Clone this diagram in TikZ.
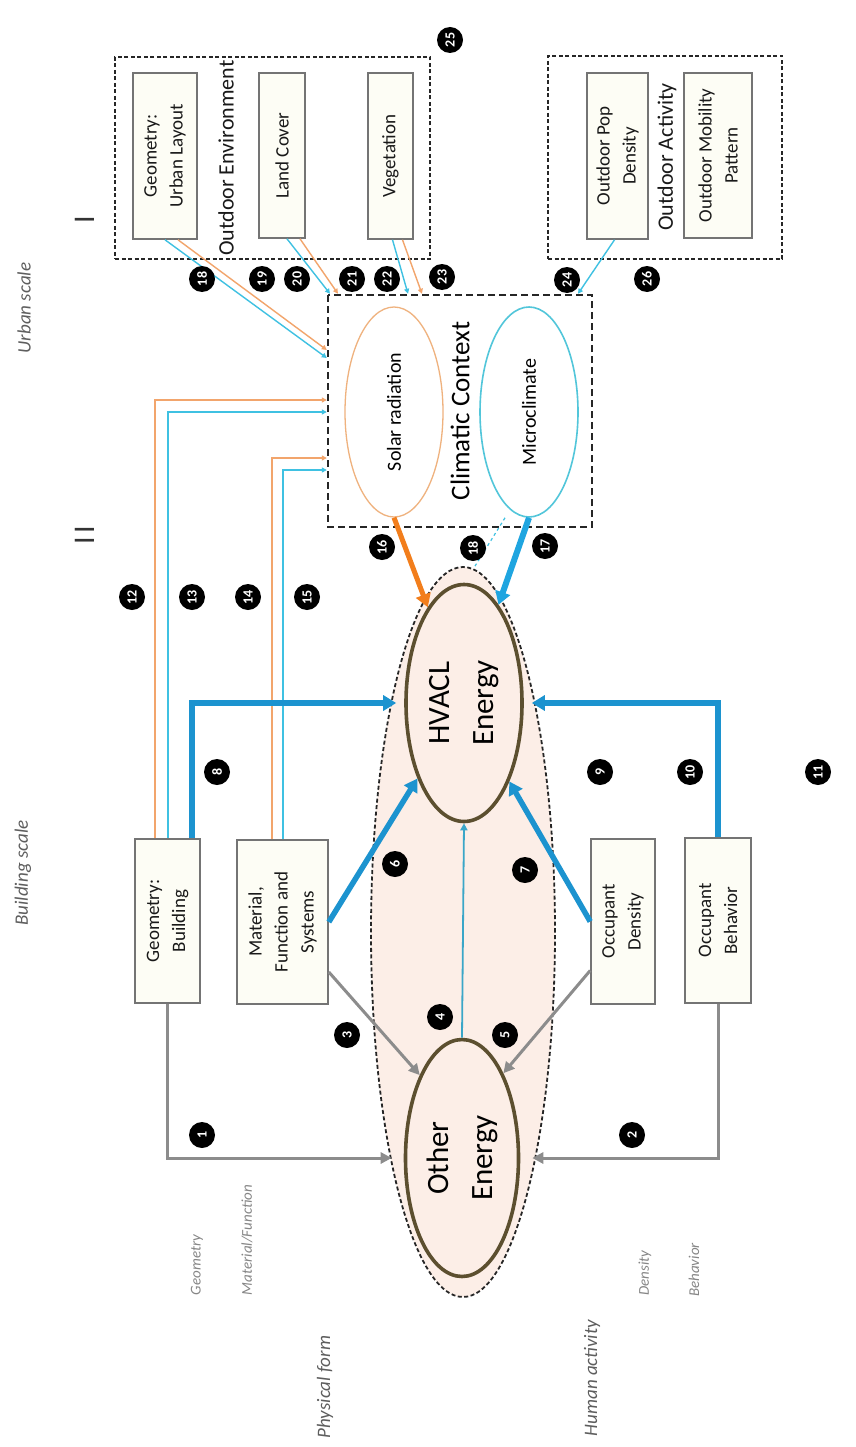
\documentclass[tikz,border=0pt]{standalone}
\usepackage{fontspec}
\setmainfont{Carlito}
\usetikzlibrary{shapes.geometric,arrows.meta}
\pgfdeclarelayer{bg}
\pgfsetlayers{bg,main}
\definecolor{lineor}{HTML}{F2A56C}
\definecolor{linecy}{HTML}{3FC1E2}
\definecolor{thickbl}{HTML}{1C93CF}
\definecolor{thickcy}{HTML}{1FA5E0}
\definecolor{thickor}{HTML}{F27E1C}
\definecolor{thinteal}{HTML}{3AA6C8}
\definecolor{grayarr}{HTML}{8C8C8C}
\definecolor{boxgray}{HTML}{747474}
\definecolor{boxfill}{HTML}{FDFDF5}
\definecolor{pinkfill}{HTML}{FCEEE7}
\definecolor{ellbrd}{HTML}{5C4F2F}
\definecolor{labgray}{HTML}{5E5E5E}
\definecolor{divgray}{HTML}{A8A8A8}
\definecolor{faintgray}{HTML}{DCDCDC}
\definecolor{faintor}{HTML}{F0DCC8}
\definecolor{solarbrd}{HTML}{EFB27E}
\definecolor{microbrd}{HTML}{52C6DA}
\begin{document}
\begin{tikzpicture}[x=1pt,y=-1pt,
  every node/.style={inner sep=0pt},
  box/.style={draw=boxgray, line width=1.6pt, fill=boxfill, rotate=90, align=center, text=black!90, font=\fontsize{19}{26}\selectfont},
  dbox/.style={draw=black!85, line width=1.8pt, dash pattern=on 4pt off 2.5pt},
  cbox/.style={draw=black!85, line width=2.4pt, dash pattern=on 7pt off 4pt, rotate=90, font=\fontsize{27}{30}\selectfont},
  badge/.style={circle, fill=black, text=white, minimum size=26pt, rotate=90, font=\fontsize{14}{14}\selectfont\bfseries},
  lab/.style={rotate=90, text=labgray, font=\fontsize{19}{22}\selectfont\itshape},
  smlab/.style={rotate=90, text=labgray!75, font=\fontsize{15}{18}\selectfont\itshape},
  roman/.style={rotate=90, text=black!80, font=\fontsize{30}{30}\selectfont},
  grplab/.style={rotate=90, text=black!90, font=\fontsize{22}{24}\selectfont},
  energy/.style={ellipse, draw=ellbrd, line width=3.6pt, fill=pinkfill, rotate=90, align=center, font=\fontsize{31}{44}\selectfont},
  climell/.style={ellipse, rotate=90, fill=white, minimum width=210pt, minimum height=98pt, font=\fontsize{20}{22}\selectfont},
  tb/.style={draw=thickbl, line width=5.5pt, -{Triangle[length=13pt,width=15pt]}},
  ga/.style={draw=grayarr, line width=3pt, -{Triangle[length=11pt,width=11pt]}},
  tor/.style={draw=lineor, line width=1.4pt, -{Triangle[length=5pt,width=5pt]}},
  tcy/.style={draw=linecy, line width=1.4pt, -{Triangle[length=5pt,width=5pt]}},
  divl/.style={draw=divgray, line width=1.2pt},
  fdiv/.style={draw=divgray!60, line width=1pt}
]
\useasboundingbox (0,0) rectangle (855,1447);
\fill[white] (0,0) rectangle (855,1447);

% ---------- side labels ----------
\node[lab] (urbs) at (24,308) {Urban scale};
\node[lab] (blds) at (23,873) {Building scale};
\node[roman] (r1) at (85,220) {I};
\node[roman] (r2) at (85,535) {I\hspace{4pt}I};
\node[lab] (phys) at (325,1387) {Physical form};
\node[lab] (hum) at (592,1378) {Human activity};
\node[smlab] (geol) at (197,1265) {Geometry};
\node[smlab] (matl) at (247,1240) {Material/Function};
\node[smlab] (denl) at (645,1273) {Density};
\node[smlab] (behl) at (694,1270) {Behavior};

% ---------- urban scale groups ----------
\node[dbox, minimum width=315pt, minimum height=202pt] (oe) at (272.5,158) {};
\node[dbox, minimum width=234pt, minimum height=203pt] (oa) at (665,157.5) {};
\node[box, minimum width=166pt, minimum height=64pt] (ul) at (165,156) {Geometry:\\Urban Layout};
\node[box, minimum width=165pt, minimum height=46pt] (lc) at (282,155.5) {Land Cover};
\node[box, minimum width=166pt, minimum height=45pt] (vg) at (390.5,156) {Vegetation};
\node[grplab] (oelab) at (226,158) {Outdoor Environment};
\node[box, minimum width=166pt, minimum height=61pt] (pd) at (617.5,156) {Outdoor Pop\\Density};
\node[box, minimum width=165pt, minimum height=68pt] (mp) at (718,155.5) {Outdoor Mobility\\Pattern};
\node[grplab] (oalab) at (667,157) {Outdoor Activity};

% ---------- climatic context ----------
\node[cbox, minimum width=232pt, minimum height=264pt] (clim) at (460,411) {Climatic Context};
\node[climell, draw=solarbrd, line width=1.3pt] (solar) at (394,412) {Solar radiation};
\node[climell, draw=microbrd, line width=1.6pt] (micro) at (529,412) {Microclimate};

% ---------- energy ----------
\node[ellipse, draw=black!85, line width=1.8pt, dash pattern=on 4pt off 2.5pt, fill=pinkfill, minimum width=184pt, minimum height=730pt] (outer) at (463,932) {};
\node[energy, minimum width=237pt, minimum height=116pt] (hvacl) at (464,703) {HVACL\\Energy};
\node[energy, minimum width=237pt, minimum height=113pt] (other) at (462,1158) {Other\\Energy};

% ---------- building scale boxes ----------
\node[box, minimum width=164pt, minimum height=65pt] (geomb) at (167.5,921) {Geometry:\\Building};
\node[box, minimum width=164pt, minimum height=91pt] (mat) at (282.5,922) {Material,\\Function and\\Systems};
\node[box, minimum width=165pt, minimum height=64pt] (occd) at (623,921.5) {Occupant\\Density};
\node[box, minimum width=165pt, minimum height=66pt] (occb) at (718,920.5) {Occupant\\Behavior};

% ---------- background lines ----------
\begin{pgfonlayer}{bg}
\draw[divl] (3,368) -- (155,368);
\draw[divl] (733,368) -- (855,368);
\draw[divl] (clim.south |- 0,410) -- (855,410);
\draw[divl] (occb.south |- 0,938) -- (855,938);
\draw[divl] (467,0) -- (467,43);
\draw[divl] (outer.south) -- (468,1447);
\draw[fdiv] (213,1178) -- (213,1298);
\draw[fdiv] (662,1178) -- (662,1298);
% faint links
\draw[draw=faintgray, line width=2pt] ([xshift=-2.5pt]oe.north) -- ++(0,-31) -| ([xshift=-2pt]oa.north);
\draw[draw=faintgray, line width=2pt] ([xshift=-43pt]oa.south) -- ([xshift=-1pt]occd.east);
\draw[draw=faintor, line width=2pt] ([yshift=15.5pt]occb.south) -- ++(87,0) |- ([yshift=-44pt]clim.south);
\end{pgfonlayer}

% ---------- connectors: outdoor -> climatic ----------
\draw[tcy] (ul.west) -- ([yshift=53pt]clim.north);
\draw[tor] ([xshift=13pt]ul.west) -- ([yshift=61pt]clim.north);
\draw[tcy] ([xshift=5pt]lc.west) -- ([xshift=-130pt]clim.east);
\draw[tor] ([xshift=18pt]lc.west) -- ([xshift=-122pt]clim.east);
\draw[tcy] ([xshift=2pt]vg.west) -- ([xshift=-52pt]clim.east);
\draw[tor] ([xshift=12pt]vg.west) -- ([xshift=-38pt]clim.east);
\draw[tcy] ([xshift=-3pt]pd.west) -- ([xshift=118pt]clim.east);

% ---------- connectors: building -> climatic ----------
\draw[tor] ([xshift=-12.5pt]geomb.east) |- ([yshift=11pt]clim.north);
\draw[tcy] ([xshift=0.5pt]geomb.east) |- ([yshift=-1pt]clim.north);
\draw[tor] ([xshift=-10.5pt]mat.east) |- ([yshift=-47pt]clim.north);
\draw[tcy] ([xshift=0.5pt]mat.east) |- ([yshift=-59pt]clim.north);

% ---------- climatic -> HVACL ----------
\draw[draw=thickor, line width=5pt, -{Triangle[length=13pt,width=15pt]}] (solar.west) -- (hvacl);
\draw[draw=thickcy, line width=6pt, -{Triangle[length=13pt,width=15pt]}] (micro.west) -- (hvacl);
\draw[draw=linecy, line width=1.2pt, dashed] ([xshift=-24pt]micro.west) -- ([xshift=12pt]outer.north);

% ---------- building -> energy ----------
\draw[tb, shorten >=8pt] ([xshift=24.5pt]geomb.east) |- (hvacl);
\draw[tb, shorten >=8pt] (occb.east) |- (hvacl);
\draw[tb] (mat.south) -- (hvacl);
\draw[tb] (occd.north) -- (hvacl);
\draw[ga, shorten >=12pt] (geomb.west) |- (other);
\draw[ga, shorten >=12pt] (occb.west) |- (other);
\draw[ga] ([yshift=-50pt]mat.south) -- (other.27);
\draw[ga] ([yshift=-49pt]occd.north) -- (other.-26);
\draw[draw=thinteal, line width=1.8pt, -{Triangle[length=7pt,width=7pt]}] (other.east) -- (hvacl.west);

% ---------- badges ----------
\node[badge] (b1) at (202,1135) {1};
\node[badge] (b2) at (632,1135) {2};
\node[badge] (b3) at (347,1035) {3};
\node[badge] (b4) at (440,1017) {4};
\node[badge] (b5) at (505,1035) {5};
\node[badge] (b6) at (395,864) {6};
\node[badge] (b7) at (525,870) {7};
\node[badge] (b8) at (217,772) {8};
\node[badge] (b9) at (600,772) {9};
\node[badge] (b10) at (690,772) {10};
\node[badge] (b11) at (818,772) {11};
\node[badge] (b12) at (132,597) {12};
\node[badge] (b13) at (192,597) {13};
\node[badge] (b14) at (248,597) {14};
\node[badge] (b15) at (307,597) {15};
\node[badge] (b16) at (382,547) {16};
\node[badge] (b17) at (545,546) {17};
\node[badge] (b18m) at (473,548) {18};
\node[badge] (b18) at (202,279) {18};
\node[badge] (b19) at (262,279) {19};
\node[badge] (b20) at (297,279) {20};
\node[badge] (b21) at (352,279) {21};
\node[badge] (b22) at (387,279) {22};
\node[badge] (b23) at (442,277) {23};
\node[badge] (b24) at (567,280) {24};
\node[badge] (b26) at (647,279) {26};
\node[badge] (b25) at (450,40) {25};
\end{tikzpicture}
\end{document}
